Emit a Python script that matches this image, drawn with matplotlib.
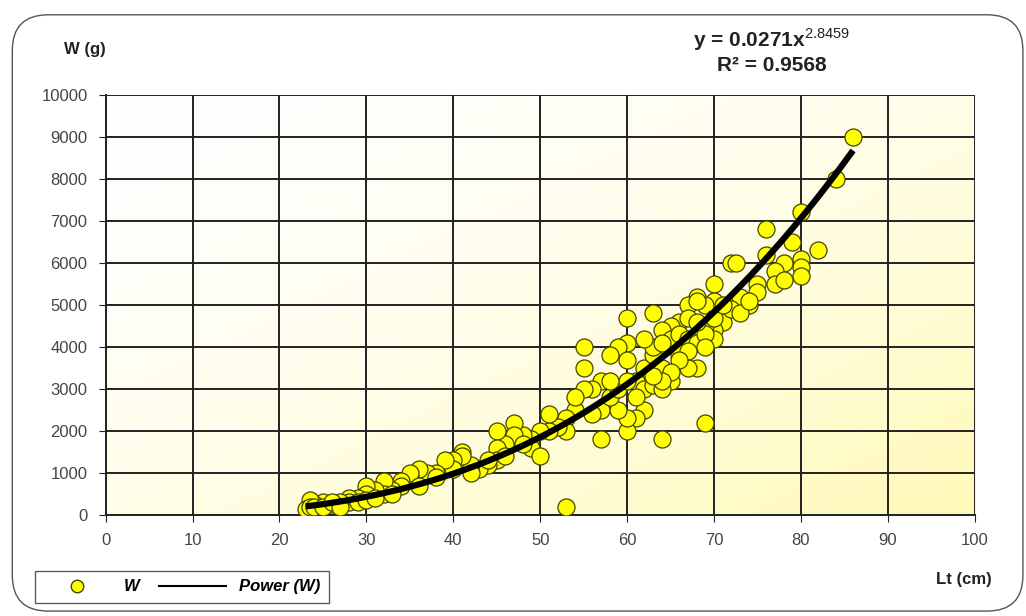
import numpy as np
import matplotlib
matplotlib.use('Agg')
import matplotlib.pyplot as plt
from matplotlib.patches import FancyBboxPatch
from matplotlib.lines import Line2D

plt.rcParams['font.family'] = ['Liberation Sans', 'DejaVu Sans']
plt.rcParams['mathtext.fontset'] = 'custom'
plt.rcParams['mathtext.rm'] = 'Liberation Sans'

# Lt (cm) and W (g)
lt = [86, 84, 80, 76, 82, 79, 76, 72, 72.5, 80, 80, 80, 78, 77, 77, 78,
      75, 75, 74, 73, 73, 70, 70, 69, 68, 67, 68, 71, 71, 70, 70, 69,
      66, 67, 65, 64, 63, 68, 67, 66, 66, 65, 69, 64, 62, 61, 60, 60, 59,
      60, 60, 59, 58, 60, 55, 55, 57, 56, 55, 57, 57, 56, 53,
      61, 62, 63, 62, 63, 64, 65, 64, 63, 62, 64,
      58, 59, 60, 61, 58,
      54, 54, 53, 53, 52, 51, 51, 50, 49, 49, 50, 48, 47, 47, 46, 45, 45, 45, 44,
      43, 42, 41, 41, 40, 40, 39, 38, 37, 36, 35, 35, 34, 34, 33, 32, 32, 31,
      30, 30, 29, 28, 28, 27, 26, 25, 24, 23.5, 23, 23.5, 24, 25, 26, 27, 29,
      30, 31, 33, 36, 38, 42, 44, 46, 48,
      66, 67, 68, 69, 70, 72, 73, 74, 71, 68, 69, 67, 66, 65, 64, 63]
w = [9000, 8000, 7200, 6800, 6300, 6500, 6200, 6000, 6000, 6100, 5900, 5700, 6000, 5800, 5500, 5600,
     5500, 5300, 5000, 5000, 5200, 5500, 5100, 5000, 5200, 5000, 5100, 4800, 4600, 4400, 4200, 4500,
     4600, 4700, 4500, 4400, 4800, 3500, 3500, 3800, 4000, 4200, 2200, 1800, 2500, 2300, 2000, 2300, 2500,
     4700, 4100, 4000, 3800, 3700, 4000, 3500, 3200, 3000, 3000, 1800, 2500, 2400, 200,
     3200, 3000, 3100, 3500, 3800, 3500, 3200, 3000, 4000, 4200, 4100,
     2800, 3000, 3200, 2800, 3200,
     2500, 2800, 2300, 2000, 2100, 2000, 2400, 2000, 1800, 1600, 1400, 1900, 2200, 1900, 1700, 2000, 1600, 1300, 1200,
     1100, 1200, 1500, 1400, 1300, 1100, 1300, 1000, 1000, 1100, 900, 1000, 800, 700, 600, 800, 500, 600,
     700, 500, 400, 400, 300, 300, 250, 300, 250, 350, 150, 200, 180, 200, 300, 200, 300,
     350, 400, 500, 700, 900, 1000, 1300, 1400, 1700,
     4300, 4200, 4100, 4300, 4700, 4900, 4800, 5100, 5000, 4600, 4000, 3900, 3700, 3400, 3200, 3300]

a, b = 0.0271, 2.8459

fig = plt.figure(figsize=(10.26, 6.16), dpi=100)
ax = fig.add_axes([0.103, 0.164, 0.847, 0.682])

# rounded frame around the chart
frame = FancyBboxPatch((0.012, 0.008), 0.985, 0.968, boxstyle="round,pad=0,rounding_size=0.035",
                       transform=fig.transFigure, facecolor='white', edgecolor='#555555',
                       linewidth=1.0, zorder=-10, mutation_aspect=1.66)
fig.patches.append(frame)

# white (top-left) to pale yellow (bottom-right) gradient in plot area
gx, gy = np.meshgrid(np.linspace(0, 1, 200), np.linspace(0, 1, 200))
g = np.clip((gx + gy) / 2, 0, 1) ** 1.6
img = np.ones((200, 200, 3))
img[..., 2] = 1 - 0.28 * g
img[..., 1] = 1 - 0.02 * g
ax.imshow(img, extent=[0, 100, 0, 10000], aspect='auto', origin='upper', zorder=0)

ax.set_xlim(0, 100)
ax.set_ylim(0, 10000)
ax.set_xticks(range(0, 101, 10))
ax.set_yticks(range(0, 10001, 1000))
ax.grid(True, color='#222222', linewidth=1.4)
ax.set_axisbelow(True)
for s in ['top', 'right']:
    ax.spines[s].set_visible(False)
for s in ['left', 'bottom']:
    ax.spines[s].set_color('#222222')
    ax.spines[s].set_linewidth(1.4)
ax.tick_params(direction='out', length=5, color='#222222', labelsize=12,
               labelcolor='#444444', pad=8)

ax.scatter(lt, w, s=150, c='#FFFF00', edgecolors='#444400', linewidths=0.9, zorder=3)
xf = np.linspace(23, 86, 200)
ax.plot(xf, a * xf ** b, color='black', linewidth=4.5, zorder=4, solid_capstyle='butt')

fig.text(0.062, 0.912, 'W (g)', fontsize=12, fontweight='bold', color='#222222')
fig.text(0.912, 0.052, 'Lt (cm)', fontsize=12, fontweight='bold', color='#222222')
fig.text(0.752, 0.935, r'y = 0.0271x$^{\mathrm{2.8459}}$', fontsize=15, fontweight='bold',
         ha='center', va='center', color='#222222')
fig.text(0.752, 0.893, 'R² = 0.9568', fontsize=15, fontweight='bold',
         ha='center', va='center', color='#222222')

handles = [Line2D([], [], marker='o', linestyle='none', markersize=9, markerfacecolor='#FFFF00',
                  markeredgecolor='#444400', label='W'),
           Line2D([], [], color='black', linewidth=1.5, label='Power (W)')]
leg = fig.legend(handles=handles, loc='lower left', bbox_to_anchor=(0.026, 0.008), ncol=2,
                 frameon=True, fancybox=False, edgecolor='#333333', handlelength=4.0,
                 columnspacing=1.2, prop={'weight': 'bold', 'style': 'italic', 'size': 12},
                 borderpad=0.5, handletextpad=0.8)
leg.get_frame().set_linewidth(1.0)

fig.savefig('out.png', dpi=100)
